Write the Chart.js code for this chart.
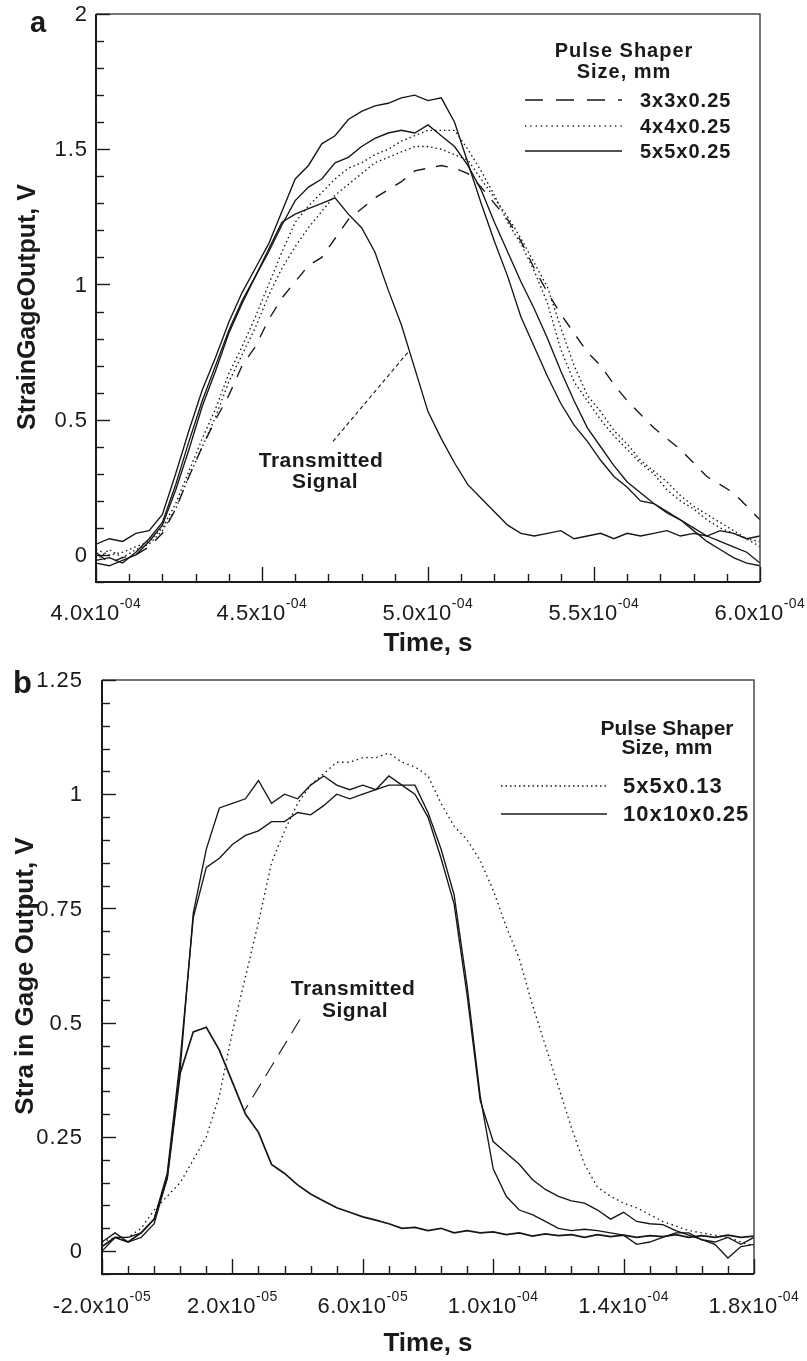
<!DOCTYPE html>
<html>
<head>
<meta charset="utf-8">
<script src="https://cdn.jsdelivr.net/npm/chart.js@4.4.1/dist/chart.umd.min.js"></script>
<style>
  html, body { margin: 0; padding: 0; background: #fff; }
  #wrap { position: relative; width: 807px; height: 1361px; }
  canvas { position: absolute; left: 0; }
  #chartA { top: 0; }
  #chartB { top: 655px; }
</style>
</head>
<body>
<div id="wrap">
  <canvas id="chartA" width="807" height="655"></canvas>
  <canvas id="chartB" width="807" height="706"></canvas>
</div>
<script>
// ---- panel a : time in microseconds, strain gage output in V ----
const timeA = [400,404,408,412,416,420,424,428,432,436,440,444,448,452,456,460,464,468,472,476,
  480,484,488,492,496,500,504,508,512,516,520,524,528,532,536,540,544,548,552,556,
  560,564,568,572,576,580,584,588,592,596,600];
const shaper3x3 = [0.01,-0.03,-0.01,0.00,0.03,0.08,0.17,0.29,0.40,0.50,0.59,0.70,0.77,0.87,0.95,1.01,1.07,1.10,1.17,1.24,
  1.28,1.32,1.35,1.38,1.42,1.43,1.44,1.43,1.41,1.36,1.30,1.24,1.16,1.06,0.97,0.89,0.82,0.75,0.70,0.63,
  0.57,0.52,0.47,0.43,0.39,0.34,0.29,0.26,0.23,0.18,0.13];
const shaper4x4Run1 = [0.02,0.00,0.01,0.03,0.05,0.10,0.19,0.31,0.43,0.54,0.67,0.77,0.88,1.00,1.12,1.23,1.29,1.34,1.39,1.43,
  1.45,1.48,1.50,1.53,1.55,1.57,1.57,1.57,1.50,1.42,1.33,1.23,1.15,1.05,0.93,0.76,0.64,0.57,0.50,0.44,
  0.39,0.34,0.30,0.24,0.20,0.17,0.13,0.10,0.08,0.06,0.05];
const shaper4x4Run2 = [-0.02,0.02,-0.01,0.02,0.04,0.09,0.17,0.29,0.40,0.51,0.64,0.74,0.84,0.96,1.06,1.14,1.21,1.27,1.33,1.37,
  1.41,1.45,1.47,1.49,1.51,1.51,1.50,1.48,1.46,1.39,1.32,1.25,1.17,1.08,0.99,0.84,0.70,0.59,0.53,0.46,
  0.41,0.35,0.31,0.27,0.22,0.18,0.15,0.12,0.09,0.06,0.03];
const shaper5x5Run1 = [0.04,0.06,0.05,0.08,0.09,0.15,0.30,0.46,0.61,0.73,0.86,0.97,1.06,1.15,1.27,1.39,1.44,1.52,1.55,1.61,
  1.64,1.66,1.67,1.69,1.70,1.68,1.69,1.60,1.45,1.30,1.16,1.03,0.88,0.77,0.66,0.56,0.48,0.42,0.35,0.29,
  0.25,0.20,0.19,0.155,0.13,0.09,0.05,0.02,-0.01,-0.03,-0.04];
const shaper5x5Run2 = [-0.02,-0.01,-0.03,0.01,0.06,0.12,0.26,0.42,0.57,0.70,0.83,0.94,1.03,1.12,1.22,1.31,1.36,1.39,1.45,1.47,
  1.51,1.54,1.56,1.57,1.56,1.59,1.55,1.51,1.44,1.35,1.23,1.12,1.01,0.91,0.80,0.68,0.57,0.47,0.40,0.33,
  0.27,0.23,0.19,0.16,0.13,0.10,0.07,0.05,0.03,0.01,-0.03];
const transmittedA = [-0.03,-0.04,-0.02,0.00,0.05,0.11,0.24,0.39,0.55,0.68,0.82,0.93,1.03,1.13,1.23,1.26,1.28,1.30,1.32,1.26,
  1.21,1.12,0.98,0.85,0.69,0.53,0.43,0.34,0.26,0.21,0.16,0.11,0.08,0.07,0.08,0.09,0.06,0.07,0.08,0.06,
  0.08,0.07,0.08,0.09,0.07,0.08,0.07,0.09,0.08,0.06,0.07];

const xTicksA = [400, 450, 500, 550, 600];
const xMantA = ['4.0', '4.5', '5.0', '5.5', '6.0'];
const xExpA = ['-04', '-04', '-04', '-04', '-04'];
const yTicksA = [0, 0.5, 1, 1.5, 2];
const yLabelsA = ['0', '0.5', '1', '1.5', '2'];
const legendA = ['3x3x0.25', '4x4x0.25', '5x5x0.25'];

// ---- panel b ----
const timeB = [-20,-16,-12,-8,-4,0,4,8,12,16,20,24,28,32,36,40,44,48,52,56,
  60,64,68,72,76,80,84,88,92,96,100,104,108,112,116,120,124,128,132,136,
  140,144,148,152,156,160,164,168,172,176,180];
const shaper5x5x013 = [0.02,0.03,0.03,0.05,0.09,0.12,0.15,0.20,0.25,0.34,0.48,0.60,0.72,0.85,0.92,0.98,1.02,1.045,1.07,1.07,
  1.08,1.08,1.09,1.07,1.06,1.04,0.98,0.93,0.90,0.855,0.79,0.71,0.64,0.54,0.45,0.36,0.27,0.19,0.14,0.12,
  0.105,0.095,0.08,0.065,0.055,0.045,0.04,0.035,0.03,0.02,0.01];
const shaper10x10Run1 = [0.02,0.04,0.02,0.03,0.06,0.16,0.40,0.74,0.88,0.97,0.98,0.99,1.03,0.98,1.00,0.99,1.02,1.04,1.02,1.01,
  1.02,1.01,1.04,1.02,1.00,0.95,0.86,0.76,0.56,0.33,0.24,0.215,0.19,0.157,0.135,0.12,0.11,0.105,0.09,0.07,
  0.085,0.065,0.06,0.058,0.045,0.035,0.025,0.015,-0.015,0.01,0.015];
const shaper10x10Run2 = [0.00,0.03,0.03,0.04,0.07,0.17,0.42,0.73,0.84,0.86,0.89,0.91,0.92,0.94,0.94,0.96,0.955,0.975,1.00,0.99,
  1.00,1.01,1.02,1.02,1.02,0.96,0.88,0.78,0.58,0.34,0.18,0.12,0.09,0.08,0.065,0.05,0.045,0.048,0.045,0.04,
  0.035,0.015,0.02,0.03,0.04,0.04,0.025,0.02,0.03,0.015,0.03];
const transmittedB = [0.01,0.03,0.02,0.04,0.07,0.16,0.39,0.48,0.49,0.44,0.37,0.30,0.26,0.19,0.17,0.145,0.125,0.11,0.095,0.085,
  0.075,0.068,0.06,0.05,0.052,0.045,0.05,0.04,0.045,0.04,0.042,0.036,0.04,0.033,0.038,0.034,0.036,0.03,0.036,0.032,
  0.035,0.03,0.034,0.032,0.036,0.03,0.034,0.03,0.035,0.03,0.033];

const xTicksB = [-20, 20, 60, 100, 140, 180];
const xMantB = ['-2.0', '2.0', '6.0', '1.0', '1.4', '1.8'];
const xExpB = ['-05', '-05', '-05', '-04', '-04', '-04'];
const yTicksB = [0, 0.25, 0.5, 0.75, 1, 1.25];
const yLabelsB = ['0', '0.25', '0.5', '0.75', '1', '1.25'];
const legendB = ['5x5x0.13', '10x10x0.25'];

const INK = '#161616';
const FONT = '"Liberation Sans", Arial, Helvetica, sans-serif';
const DOTTED = [1.5, 3];
const DASHED = [12, 11];

function series(times, values, dash, width) {
  return {
    data: times.map((t, i) => ({ x: t, y: values[i] })),
    borderColor: INK,
    borderWidth: width || 1.35,
    borderDash: dash || [],
    pointRadius: 0,
    tension: 0,
    fill: false
  };
}

function decorations(p) {
  return {
    id: 'decor' + p.letter,
    afterDraw(chart) {
      const ctx = chart.ctx, a = chart.chartArea;
      const xs = chart.scales.x, ys = chart.scales.y;
      ctx.save();

      // frame
      ctx.setLineDash([]);
      ctx.strokeStyle = '#4a4a4a'; ctx.lineWidth = 1.5;
      ctx.beginPath(); ctx.moveTo(a.left, a.top); ctx.lineTo(a.right, a.top); ctx.lineTo(a.right, a.bottom); ctx.stroke();
      ctx.strokeStyle = '#1a1a1a'; ctx.lineWidth = 2;
      ctx.beginPath(); ctx.moveTo(a.left, a.top); ctx.lineTo(a.left, a.bottom); ctx.lineTo(a.right, a.bottom); ctx.stroke();

      // inward ticks
      ctx.lineWidth = 1.4;
      const nY = Math.round((p.yMax - p.yMin) / p.yMinor);
      for (let i = 0; i <= nY; i++) {
        const v = p.yMin + i * p.yMinor;
        const major = p.yTicks.some(t => Math.abs(t - v) < 1e-6);
        const y = Math.round(ys.getPixelForValue(v)) + 0.5;
        ctx.beginPath(); ctx.moveTo(a.left, y); ctx.lineTo(a.left + (major ? 14 : 8), y); ctx.stroke();
      }
      const nX = Math.round((p.xMax - p.xMin) / p.xMinor);
      for (let i = 0; i <= nX; i++) {
        const v = p.xMin + i * p.xMinor;
        const major = p.xTicks.some(t => Math.abs(t - v) < 1e-6);
        const x = Math.round(xs.getPixelForValue(v)) + 0.5;
        ctx.beginPath(); ctx.moveTo(x, a.bottom); ctx.lineTo(x, a.bottom - (major ? 15 : 8)); ctx.stroke();
      }

      ctx.fillStyle = '#1a1a1a';
      // y tick labels
      ctx.font = '22px ' + FONT;
      ctx.textAlign = 'right'; ctx.textBaseline = 'middle';
      ctx.letterSpacing = '1px';
      p.yTicks.forEach((v, i) => ctx.fillText(p.yLabels[i], a.left - p.yLabelGap, ys.getPixelForValue(v) + 1));

      // x tick labels with superscript exponent
      ctx.textAlign = 'left'; ctx.textBaseline = 'alphabetic';
      p.xTicks.forEach((v, i) => {
        const main = p.xMant[i] + 'x10';
        ctx.font = '22px ' + FONT; ctx.letterSpacing = '0.5px';
        const w1 = ctx.measureText(main).width;
        ctx.font = '14px ' + FONT; ctx.letterSpacing = '0.5px';
        const w2 = ctx.measureText(p.xExp[i]).width;
        const x0 = xs.getPixelForValue(v) - (w1 + w2) / 2;
        ctx.font = '22px ' + FONT; ctx.letterSpacing = '0.5px';
        ctx.fillText(main, x0, p.xLabelY);
        ctx.font = '14px ' + FONT; ctx.letterSpacing = '0.5px';
        ctx.fillText(p.xExp[i], x0 + w1, p.xLabelY - 12);
      });
      ctx.letterSpacing = '0px';

      // axis titles
      ctx.font = 'bold 26px ' + FONT;
      ctx.textAlign = 'center';
      ctx.fillText('Time, s', (a.left + a.right) / 2, p.xTitleY);
      ctx.save();
      ctx.translate(p.yTitleX, p.yTitleMid);
      ctx.rotate(-Math.PI / 2);
      ctx.font = 'bold ' + p.yTitleSize + 'px ' + FONT;
      ctx.fillText(p.yTitle, 0, 0);
      ctx.restore();

      // panel letter
      ctx.font = 'bold ' + p.letterSize + 'px ' + FONT;
      ctx.textAlign = 'left';
      ctx.fillText(p.letter, p.letterX, p.letterY);

      // legend
      const lg = p.legend;
      ctx.font = 'bold ' + lg.headSize + 'px ' + FONT;
      ctx.letterSpacing = lg.headSpacing;
      ctx.textAlign = 'center';
      ctx.fillText('Pulse Shaper', lg.headX, lg.headY1);
      ctx.fillText('Size, mm', lg.headX, lg.headY2);
      ctx.font = 'bold ' + lg.entrySize + 'px ' + FONT;
      ctx.letterSpacing = lg.entrySpacing;
      ctx.textAlign = 'left'; ctx.textBaseline = 'middle';
      lg.labels.forEach((lab, i) => {
        const y = lg.rowY[i];
        ctx.strokeStyle = lg.colors[i]; ctx.lineWidth = lg.widths[i];
        ctx.setLineDash(lg.dashes[i]);
        ctx.beginPath(); ctx.moveTo(lg.lineX1, y); ctx.lineTo(lg.lineX2, y); ctx.stroke();
        ctx.fillText(lab, lg.textX, y + 1);
      });
      ctx.letterSpacing = '0px';

      // "Transmitted Signal" note with leader
      const n = p.note;
      ctx.setLineDash(n.dash); ctx.strokeStyle = INK; ctx.lineWidth = 1.1;
      ctx.beginPath();
      ctx.moveTo(xs.getPixelForValue(n.from[0]), ys.getPixelForValue(n.from[1]));
      ctx.lineTo(xs.getPixelForValue(n.to[0]), ys.getPixelForValue(n.to[1]));
      ctx.stroke();
      ctx.setLineDash([]);
      ctx.font = 'bold 21px ' + FONT;
      ctx.textAlign = 'center'; ctx.textBaseline = 'alphabetic';
      ctx.letterSpacing = '0.5px';
      ctx.fillText('Transmitted', n.x1, n.y1);
      ctx.fillText('Signal', n.x2, n.y2);
      ctx.letterSpacing = '0px';

      ctx.restore();
    }
  };
}

function buildChart(id, datasets, p) {
  return new Chart(document.getElementById(id), {
    type: 'line',
    data: { datasets },
    options: {
      responsive: false,
      animation: false,
      events: [],
      layout: { padding: p.pad },
      plugins: { legend: { display: false }, tooltip: { enabled: false } },
      scales: {
        x: { type: 'linear', min: p.xMin, max: p.xMax, display: false },
        y: { type: 'linear', min: p.yMin, max: p.yMax, display: false }
      }
    },
    plugins: [decorations(p)]
  });
}

const chartA = buildChart('chartA', [
  series(timeA, shaper3x3, DASHED),
  series(timeA, shaper4x4Run1, DOTTED),
  series(timeA, shaper4x4Run2, DOTTED),
  series(timeA, shaper5x5Run1),
  series(timeA, shaper5x5Run2),
  series(timeA, transmittedA)
], {
  letter: 'a', letterX: 30, letterY: 32, letterSize: 29,
  pad: { left: 96, top: 14, right: 47, bottom: 73 },
  xMin: 400, xMax: 600, xMinor: 10, xTicks: xTicksA, xMant: xMantA, xExp: xExpA, xLabelY: 620,
  yMin: -0.1, yMax: 2, yMinor: 0.1, yTicks: yTicksA, yLabels: yLabelsA, yLabelGap: 8,
  xTitleY: 651, yTitle: 'StrainGageOutput, V', yTitleSize: 25, yTitleX: 35, yTitleMid: 307,
  legend: {
    headSize: 20, headSpacing: '1px', headX: 624, headY1: 57, headY2: 78,
    entrySize: 20, entrySpacing: '1px', textX: 640, lineX1: 525, lineX2: 622,
    rowY: [100, 126, 151], labels: legendA,
    dashes: [[18, 13], [1.3, 4], []], widths: [1.3, 1.3, 1.5], colors: [INK, INK, INK]
  },
  note: { from: [471.4, 0.42], to: [494.0, 0.75], dash: [4, 3],
          x1: 321, y1: 467, x2: 325, y2: 488 }
});

const chartB = buildChart('chartB', [
  series(timeB, shaper5x5x013, [1.5, 3.5]),
  series(timeB, shaper10x10Run1),
  series(timeB, shaper10x10Run2),
  series(timeB, transmittedB, [], 1.7)
], {
  letter: 'b', letterX: 13, letterY: 38, letterSize: 31,
  pad: { left: 102, top: 25, right: 53, bottom: 87 },
  xMin: -20, xMax: 180, xMinor: 8, xTicks: xTicksB, xMant: xMantB, xExp: xExpB, xLabelY: 658,
  yMin: -0.05, yMax: 1.25, yMinor: 0.05, yTicks: yTicksB, yLabels: yLabelsB, yLabelGap: 19,
  xTitleY: 696, yTitle: 'Stra in Gage Output, V', yTitleSize: 26, yTitleX: 33, yTitleMid: 321,
  legend: {
    headSize: 21, headSpacing: '0px', headX: 667, headY1: 80, headY2: 99,
    entrySize: 22, entrySpacing: '1px', textX: 623, lineX1: 501, lineX2: 607,
    rowY: [131, 159], labels: legendB,
    dashes: [[1.5, 3], []], widths: [1.3, 2], colors: [INK, '#555']
  },
  note: { from: [40.7, 0.507], to: [23.6, 0.306], dash: [16, 9],
          x1: 353, y1: 340, x2: 355, y2: 362 }
});
</script>
</body>
</html>
